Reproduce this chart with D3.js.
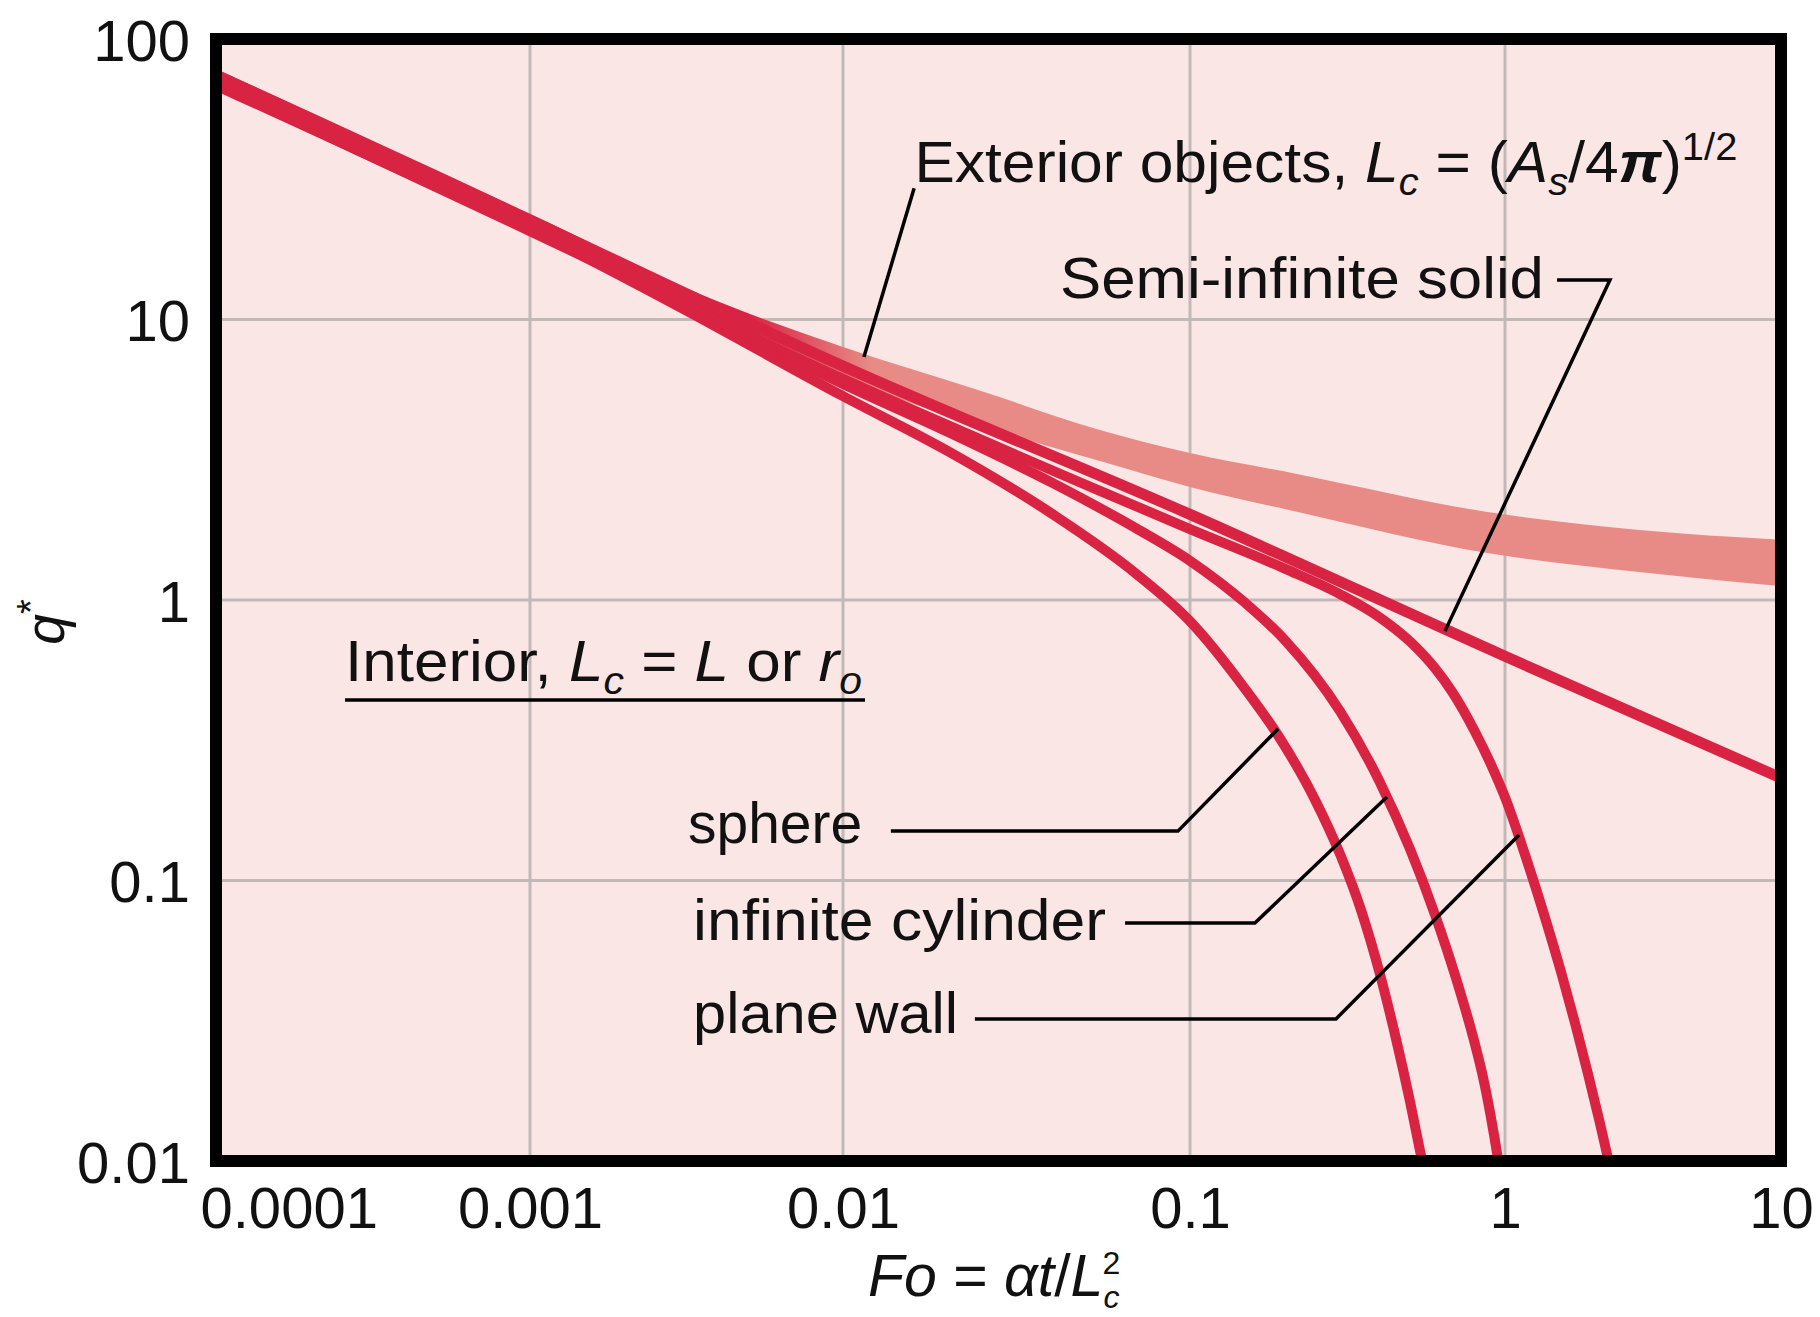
<!DOCTYPE html>
<html>
<head>
<meta charset="utf-8">
<script src="https://cdn.jsdelivr.net/npm/d3@7"></script>
<style>
  body { margin: 0; background: #fff; }
  svg text { font-family: "Liberation Sans", Arial, sans-serif; fill: #111; white-space: pre; }
</style>
</head>
<body>
<script>
// axis ticks
var foTicks = [1e-4, 1e-3, 1e-2, 1e-1, 1, 10];
var foTickLabels = ["0.0001", "0.001", "0.01", "0.1", "1", "10"];
var qTicks = [0.01, 0.1, 1, 10, 100];
var qTickLabels = ["0.01", "0.1", "1", "10", "100"];

// semi-infinite solid
var semiFo = [1e-4, 1e-3, 1e-2, 0.1, 1, 10];
var semiQ = [74.5, 22.6, 6.82, 2.02, 0.63, 0.232];

// plane wall
var planeFo = [1e-4, 1e-3, 0.01, 0.055, 0.1, 0.2, 0.3, 0.4, 0.5, 0.6, 0.68, 0.8, 0.9, 1.0, 1.2, 1.4, 1.6, 1.8, 2.0, 2.2, 2.4, 2.5];
var planeQ = [69.2, 20.65, 6.14, 2.45, 1.79, 1.294, 1.048, 0.867, 0.710, 0.570, 0.470, 0.342, 0.261, 0.198, 0.118, 0.0731, 0.0468, 0.0306, 0.0204, 0.01384, 0.00946, 0.0078];

// infinite cylinder
var cylFo = [1e-4, 1e-3, 3e-3, 0.01, 0.02, 0.04, 0.07, 0.1, 0.15, 0.2, 0.3, 0.4, 0.5, 0.6, 0.7, 0.8, 0.85, 0.9, 0.95, 1.0];
var cylQ = [71.5, 21.3, 11.6, 5.89, 3.98, 2.62, 1.80, 1.38, 0.975, 0.72, 0.400, 0.225, 0.129, 0.0753, 0.0446, 0.0265, 0.0201, 0.01455, 0.01016, 0.0068];

// sphere
var sphFo = [1e-4, 1e-3, 3e-3, 0.01, 0.02, 0.04, 0.07, 0.1, 0.15, 0.19, 0.25, 0.3, 0.35, 0.4, 0.45, 0.5, 0.55, 0.6];
var sphQ = [70.5, 21.0, 11.1, 5.33, 3.40, 2.03, 1.24, 0.84, 0.48, 0.330, 0.193, 0.1236, 0.0778, 0.0468, 0.0275, 0.0162, 0.00955, 0.0058];

// exterior objects (band between upper and lower limits)
var extFo = [1e-4, 1e-3, 3.5e-3, 0.01, 0.025, 0.055, 0.1, 0.22, 0.88, 3, 10];
var extHi = [78.2, 23.8, 12.3, 7.98, 5.56, 4.04, 3.34, 2.81, 2.06, 1.78, 1.64];
var extLo = [65.3, 19.9, 10.3, 6.18, 4.17, 3.13, 2.53, 2.06, 1.47, 1.26, 1.12];

// annotations, in (Fo, q*) coordinates
var leaderExterior = [[0.01603, 29.4], [0.01149, 7.35]];
var leaderSemi = [[1.543, 13.84], [2.40, 13.84], [0.6447, 0.7745]];
var leaderSphere = [[0.01374, 0.150], [0.0923, 0.150], [0.1903, 0.347]];
var leaderCylinder = [[0.0650, 0.0705], [0.1607, 0.0705], [0.4217, 0.1986]];
var leaderPlane = [[0.02399, 0.0321], [0.2907, 0.0321], [1.124, 0.1452]];
var underlineInterior = [[2.576e-4, 0.440], [0.01157, 0.440]];

var width = 1820, height = 1317;
var xTickPx = [216, 530, 843, 1190, 1505, 1781];
var plotTop = 39, plotBottom = 1161;

var red = "#d92342", salmon = "#e88a85", pink = "#fae6e4", gridColor = "#c0b9b7";

var x = d3.scaleLog().domain(foTicks).range(xTickPx);
var y = d3.scaleLog().domain([0.01, 100]).range([plotBottom, plotTop]);

var svg = d3.select("body").append("svg")
    .attr("width", width)
    .attr("height", height);

var defs = svg.append("defs");
defs.append("clipPath").attr("id", "plotClip")
    .append("rect")
    .attr("x", x(1e-4)).attr("y", y(100))
    .attr("width", x(10) - x(1e-4)).attr("height", y(0.01) - y(100));

var grad = defs.append("linearGradient")
    .attr("id", "extGrad")
    .attr("gradientUnits", "userSpaceOnUse")
    .attr("x1", x(0.005)).attr("x2", x(0.012))
    .attr("y1", 0).attr("y2", 0);
grad.append("stop").attr("offset", 0).attr("stop-color", red);
grad.append("stop").attr("offset", 1).attr("stop-color", salmon);

svg.append("rect")
    .attr("x", x(1e-4)).attr("y", y(100))
    .attr("width", x(10) - x(1e-4)).attr("height", y(0.01) - y(100))
    .attr("fill", pink);

// grid
svg.selectAll(".vgrid")
    .data(foTicks.slice(1, -1))
    .enter().append("line")
    .attr("x1", function (d) { return x(d); }).attr("x2", function (d) { return x(d); })
    .attr("y1", y(100)).attr("y2", y(0.01))
    .attr("stroke", gridColor).attr("stroke-width", 3);

svg.selectAll(".hgrid")
    .data(qTicks.slice(1, -1))
    .enter().append("line")
    .attr("y1", function (d) { return y(d); }).attr("y2", function (d) { return y(d); })
    .attr("x1", x(1e-4)).attr("x2", x(10))
    .attr("stroke", gridColor).attr("stroke-width", 3);

var plot = svg.append("g").attr("clip-path", "url(#plotClip)");

// exterior band
var extData = extFo.map(function (f, i) { return { fo: f, hi: extHi[i], lo: extLo[i] }; });
plot.append("path")
    .datum(extData)
    .attr("fill", "url(#extGrad)")
    .attr("d", d3.area()
        .x(function (d) { return x(d.fo); })
        .y0(function (d) { return y(d.lo); })
        .y1(function (d) { return y(d.hi); })
        .curve(d3.curveMonotoneX));

var line = d3.line()
    .x(function (d) { return x(d[0]); })
    .y(function (d) { return y(d[1]); })
    .curve(d3.curveMonotoneX);

function zip(a, b) { return a.map(function (v, i) { return [v, b[i]]; }); }

var series = [
    { fo: sphFo, q: sphQ, w: 10 },
    { fo: cylFo, q: cylQ, w: 10 },
    { fo: planeFo, q: planeQ, w: 10 },
    { fo: semiFo, q: semiQ, w: 11 }
];
series.forEach(function (s) {
    plot.append("path")
        .datum(zip(s.fo, s.q))
        .attr("fill", "none")
        .attr("stroke", red)
        .attr("stroke-width", s.w)
        .attr("d", line);
});

// leader lines
var leader = d3.line()
    .x(function (d) { return x(d[0]); })
    .y(function (d) { return y(d[1]); });

[leaderExterior, leaderSemi, leaderSphere, leaderCylinder, leaderPlane, underlineInterior].forEach(function (pts) {
    svg.append("path")
        .datum(pts)
        .attr("fill", "none")
        .attr("stroke", "#000")
        .attr("stroke-width", 3.5)
        .attr("d", leader);
});

// labels: parts with italic / subscript / superscript
function addLabel(parts, fo, q, len, size) {
    var t = svg.append("text")
        .attr("x", x(fo)).attr("y", y(q))
        .attr("font-size", size);
    var shift = 0;
    parts.forEach(function (p) {
        var want = p.sub ? 13 : (p.sup ? -22 : 0);
        var ts = t.append("tspan").text(p.t).attr("dy", want - shift);
        shift = want;
        if (p.i) ts.attr("font-style", "italic");
        if (p.b) ts.attr("font-weight", "bold");
        if (p.sub || p.sup) ts.attr("font-size", size * 0.66);
    });
    if (len) t.attr("textLength", len).attr("lengthAdjust", "spacingAndGlyphs");
    return t;
}

addLabel([{ t: "Exterior objects, " }, { t: "L", i: 1 }, { t: "c", i: 1, sub: 1 }, { t: " = (" },
          { t: "A", i: 1 }, { t: "s", i: 1, sub: 1 }, { t: "/4" }, { t: "\u03c0", i: 1, b: 1 }, { t: ")" },
          { t: "1/2", sup: 1 }], 0.01606, 30.9, 823, 58);
addLabel([{ t: "Semi-infinite solid" }], 0.0422, 11.93, 484, 58);
addLabel([{ t: "Interior, " }, { t: "L", i: 1 }, { t: "c", i: 1, sub: 1 }, { t: " = " }, { t: "L", i: 1 },
          { t: " or " }, { t: "r", i: 1 }, { t: "o", i: 1, sub: 1 }], 2.576e-4, 0.514, 517, 58);
addLabel([{ t: "sphere" }], 3.2e-3, 0.136, 174, 58);
addLabel([{ t: "infinite cylinder" }], 3.32e-3, 0.0614, 413, 58);
addLabel([{ t: "plane wall" }], 3.32e-3, 0.0286, 265, 58);

// border
svg.append("rect")
    .attr("x", x(1e-4)).attr("y", y(100))
    .attr("width", x(10) - x(1e-4)).attr("height", y(0.01) - y(100))
    .attr("fill", "none")
    .attr("stroke", "#000")
    .attr("stroke-width", 12);

// axes
var xAxis = svg.append("g")
    .attr("transform", "translate(0," + y(0.01) + ")")
    .call(d3.axisBottom(x).tickValues(foTicks)
        .tickFormat(function (d, i) { return foTickLabels[i]; })
        .tickSize(0));
xAxis.select(".domain").remove();
xAxis.attr("font-size", 58).attr("font-family", null);
xAxis.selectAll("text")
    .attr("y", 67).attr("dy", 0)
    .attr("text-anchor", function (d, i) { return i === 0 ? "start" : "middle"; })
    .attr("dx", function (d, i) { return i === 0 ? -16 : 0; });

var yAxis = svg.append("g")
    .attr("transform", "translate(" + x(1e-4) + ",0)")
    .call(d3.axisLeft(y).tickValues(qTicks)
        .tickFormat(function (d, i) { return qTickLabels[i]; })
        .tickSize(0).tickPadding(26));
yAxis.select(".domain").remove();
yAxis.attr("font-size", 58).attr("font-family", null);
yAxis.selectAll("text").attr("dy", "0.37em");

// axis titles
var xt = svg.append("text")
    .attr("x", 868).attr("y", 1296)
    .attr("font-size", 59);
xt.append("tspan").attr("font-style", "italic").text("Fo");
xt.append("tspan").text(" = ");
xt.append("tspan").attr("font-style", "italic").text("\u03b1t");
xt.append("tspan").text("/");
xt.append("tspan").attr("font-style", "italic").text("L");
xt.append("tspan").attr("font-style", "italic").attr("font-size", 32).attr("dy", 12).text("c");
xt.append("tspan").attr("font-size", 32).attr("dx", -17).attr("dy", -34).text("2");

var yt = svg.append("text")
    .attr("transform", "translate(64,622) rotate(-90)")
    .attr("text-anchor", "middle")
    .attr("font-size", 55);
yt.append("tspan").attr("font-style", "italic").text("q");
yt.append("tspan").attr("font-size", 38).attr("dy", -20).text("*");
</script>
</body>
</html>
